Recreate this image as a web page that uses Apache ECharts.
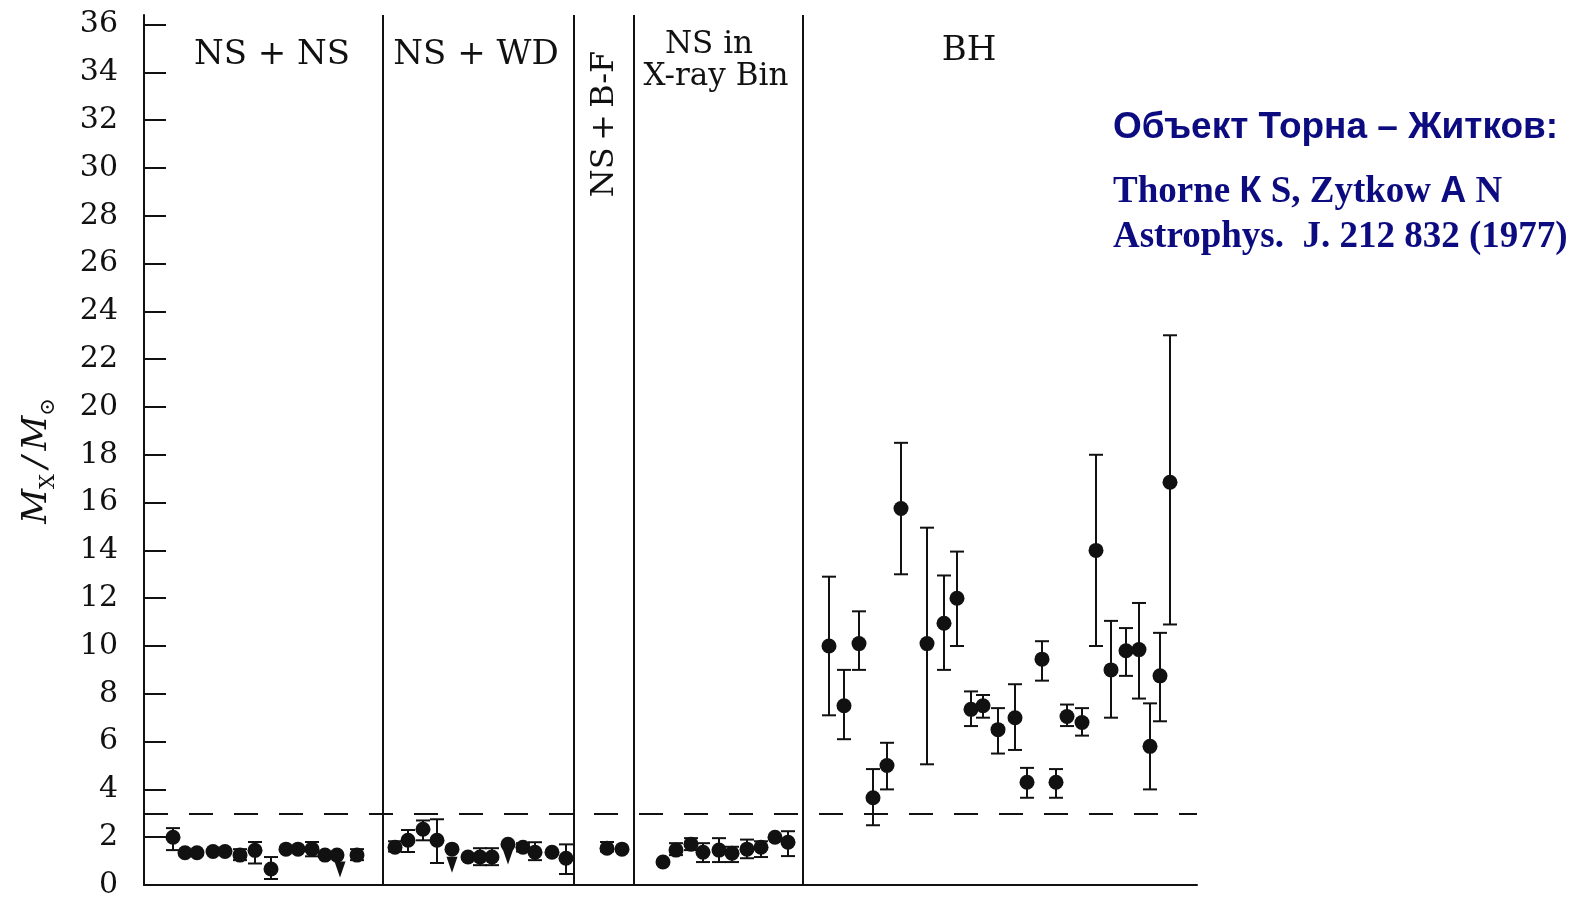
<!DOCTYPE html>
<html><head><meta charset="utf-8">
<script src="https://cdn.jsdelivr.net/npm/echarts@6/dist/echarts.min.js"></script>
<style>html,body{margin:0;padding:0;background:#fff}#c{width:1582px;height:900px}</style>
</head><body><div id="c"></div>
<script>
// ---------- DATA ----------
const yTicks = [0,2,4,6,8,10,12,14,16,18,20,22,24,26,28,30,32,34,36];
const groupSeparators = [23.9, 43.0, 49.0, 65.9];   // x positions of section borders
const limitMass = 3;                                  // dashed line M = 3 Msun

// NS + NS
const nsnsX    = [2.9, 4.1, 5.3, 6.9, 8.1, 9.6, 11.1, 12.7, 14.2, 15.4, 16.8, 18.1, 19.3, 21.3];
const nsnsM    = [2.0, 1.35, 1.35, 1.4, 1.4, 1.25, 1.45, 0.67, 1.5, 1.5, 1.5, 1.25, 1.25, 1.25];
const nsnsLow  = [1.46, null, null, null, null, 1.04, 0.9, 0.25, null, null, 1.2, null, null, 1.04];
const nsnsHigh = [2.38, null, null, null, null, 1.5, 1.8, 1.17, null, null, 1.8, null, null, 1.5];
// NS + WD
const nswdX    = [25.1, 26.4, 27.9, 29.3, 30.8, 32.4, 33.6, 34.8, 36.4, 37.9, 39.1, 40.8, 42.2];
const nswdM    = [1.58, 1.87, 2.33, 1.87, 1.5, 1.17, 1.17, 1.17, 1.7, 1.58, 1.37, 1.37, 1.12];
const nswdLow  = [1.4, 1.38, 1.87, 0.92, null, null, 0.83, 0.83, null, 1.4, 1.04, null, 0.46];
const nswdHigh = [1.83, 2.3, 2.7, 2.75, null, null, 1.54, 1.54, null, 1.75, 1.79, null, 1.7];
// NS + B-F
const nsbfX    = [46.3, 47.8];
const nsbfM    = [1.54, 1.5];
const nsbfLow  = [1.4, null];
const nsbfHigh = [1.8, null];
// NS in X-ray binaries
const nsxbX    = [51.9, 53.2, 54.7, 55.9, 57.5, 58.8, 60.3, 61.7, 63.1, 64.4];
const nsxbM    = [0.96, 1.46, 1.71, 1.37, 1.46, 1.33, 1.5, 1.58, 2.0, 1.79];
const nsxbLow  = [null, 1.25, 1.46, 0.96, 0.96, 0.96, 1.12, 1.17, null, 1.21];
const nsxbHigh = [null, 1.75, 1.96, 1.75, 1.96, 1.6, 1.9, 1.83, null, 2.25];
// BH
const bhX    = [68.5, 70.0, 71.5, 72.9, 74.3, 75.7, 78.3, 80.0, 81.3, 82.7, 83.9, 85.4, 87.1, 88.3, 89.8, 91.2, 92.3, 93.8, 95.2, 96.7, 98.2, 99.5, 100.6, 101.6, 102.6];
const bhM    = [10.0, 7.5, 10.1, 3.65, 5.0, 15.75, 10.1, 10.95, 12.0, 7.35, 7.5, 6.5, 7.0, 4.3, 9.45, 4.3, 7.05, 6.8, 14.0, 9.0, 9.8, 9.85, 5.8, 8.75, 16.85];
const bhLow  = [7.1, 6.1, 9.0, 2.5, 4.0, 13.0, 5.05, 9.0, 10.0, 6.65, 7.0, 5.5, 5.65, 3.65, 8.55, 3.65, 6.65, 6.25, 10.0, 7.0, 8.75, 7.8, 4.0, 6.85, 10.9];
const bhHigh = [12.9, 9.0, 11.45, 4.85, 5.95, 18.5, 14.95, 12.95, 13.95, 8.1, 7.95, 7.4, 8.4, 4.9, 10.2, 4.85, 7.55, 7.4, 18.0, 11.05, 10.75, 11.8, 7.6, 10.55, 23.0];
// upper-limit arrows
const arrowX = [19.6, 30.8, 36.4];
const arrowM = [0.65, 0.85, 1.19];

const groupLabels = ['NS + NS', 'NS + WD', 'NS\u2009+\u2009B-F', 'NS in', 'X-ray Bin', 'BH'];

// ---------- BUILD ----------
const allX = [].concat(nsnsX, nswdX, nsbfX, nsxbX, bhX);
const allM = [].concat(nsnsM, nswdM, nsbfM, nsxbM, bhM);
const allLow = [].concat(nsnsLow, nswdLow, nsbfLow, nsxbLow, bhLow);
const allHigh = [].concat(nsnsHigh, nswdHigh, nsbfHigh, nsxbHigh, bhHigh);
const points = allX.map((x, i) => [x, allM[i]]);
const errors = [];
allX.forEach((x, i) => { if (allLow[i] != null) errors.push([x, allLow[i], allHigh[i]]); });

const INK = '#111111';
const BLUE = '#0c0c80';
const SERIF = '"DejaVu Serif", "Liberation Serif", serif';

const chart = echarts.init(document.getElementById('c'));
chart.setOption({
  animation: false,
  backgroundColor: '#fff',
  grid: { left: 144, right: 385, top: 15, bottom: 11.5 },
  xAxis: {
    type: 'value', min: 0, max: 105.3,
    axisLine: { show: true, onZero: false, lineStyle: { color: INK, width: 2 } },
    axisTick: { show: false }, axisLabel: { show: false }, splitLine: { show: false }
  },
  yAxis: {
    type: 'value', min: 0, max: 36.4,
    axisLine: { show: true, lineStyle: { color: INK, width: 2 } },
    axisTick: { show: true, inside: true, length: 22, lineStyle: { color: INK, width: 2 }, customValues: yTicks },
    axisLabel: { color: INK, fontFamily: SERIF, fontSize: 30, margin: 26, customValues: yTicks },
    splitLine: { show: false }
  },
  series: [
    {
      type: 'custom',
      data: errors,
      silent: true,
      renderItem: function (params, api) {
        const x = api.value(0);
        const lo = api.coord([x, api.value(1)]);
        const hi = api.coord([x, api.value(2)]);
        const w = 7;
        const st = { stroke: INK, lineWidth: 2 };
        return {
          type: 'group',
          children: [
            { type: 'line', shape: { x1: lo[0], y1: lo[1], x2: hi[0], y2: hi[1] }, style: st },
            { type: 'line', shape: { x1: hi[0] - w, y1: hi[1], x2: hi[0] + w, y2: hi[1] }, style: st },
            { type: 'line', shape: { x1: lo[0] - w, y1: lo[1], x2: lo[0] + w, y2: lo[1] }, style: st }
          ]
        };
      },
      markLine: {
        silent: true, symbol: ['none', 'none'], label: { show: false },
        data: groupSeparators.map(v => ({ xAxis: v, lineStyle: { type: 'solid', color: INK, width: 2 } }))
          .concat([{ yAxis: limitMass, lineStyle: { type: [24, 21], color: INK, width: 2 } }])
      }
    },
    {
      type: 'scatter',
      data: points,
      symbol: 'circle',
      symbolSize: 15,
      itemStyle: { color: INK, opacity: 1 },
      silent: true
    },
    {
      type: 'scatter',
      data: arrowX.map((x, i) => [x, arrowM[i]]),
      symbol: 'triangle',
      symbolRotate: 180,
      symbolSize: [11, 16],
      itemStyle: { color: INK, opacity: 1 },
      silent: true
    }
  ],
  graphic: [
    { type: 'text', x: 272, y: 55, style: { text: groupLabels[0], font: '34px ' + SERIF, fill: INK, align: 'center', verticalAlign: 'middle' } },
    { type: 'text', x: 476, y: 55, style: { text: groupLabels[1], font: '34px ' + SERIF, fill: INK, align: 'center', verticalAlign: 'middle' } },
    { type: 'text', x: 605, y: 124, rotation: Math.PI / 2, style: { text: groupLabels[2], font: '32px ' + SERIF, fill: INK, align: 'center', verticalAlign: 'middle' } },
    { type: 'text', x: 709, y: 45, style: { text: groupLabels[3], font: '31px ' + SERIF, fill: INK, align: 'center', verticalAlign: 'middle' } },
    { type: 'text', x: 716, y: 77, style: { text: groupLabels[4], font: '31px ' + SERIF, fill: INK, align: 'center', verticalAlign: 'middle' } },
    { type: 'text', x: 969, y: 51, style: { text: groupLabels[5], font: '34px ' + SERIF, fill: INK, align: 'center', verticalAlign: 'middle' } },
    {
      type: 'text', x: 37, y: 461, rotation: Math.PI / 2,
      style: {
        text: '{m|M}{sub|X}{sl|/}{m|M}{sub|⊙}',
        align: 'center', verticalAlign: 'middle', fill: INK,
        rich: {
          m: { font: 'italic 34px ' + SERIF, fill: INK, lineHeight: 44 },
          sub: { font: '21px ' + SERIF, fill: INK, verticalAlign: 'bottom', lineHeight: 44 },
          sl: { font: 'italic 34px ' + SERIF, fill: INK, padding: [0, 6, 0, 6], lineHeight: 44 }
        }
      }
    },
    { type: 'text', x: 1113, y: 128, style: { text: 'Объект Торна – Житков:', font: 'bold 37px "Liberation Sans", Arial, sans-serif', fill: BLUE, align: 'left', verticalAlign: 'middle' } },
    {
      type: 'text', x: 1113, y: 192,
      style: {
        text: '{s|Thorne }{a|К}{s| S, Zytkow }{a|А}{s| N}',
        align: 'left', verticalAlign: 'middle',
        rich: {
          s: { font: 'bold 37px "Liberation Serif", serif', fill: BLUE },
          a: { font: 'bold 36px "Liberation Sans", sans-serif', fill: BLUE }
        }
      }
    },
    { type: 'text', x: 1113, y: 237, style: { text: 'Astrophys.  J. 212 832 (1977)', font: 'bold 37px "Liberation Serif", serif', fill: BLUE, align: 'left', verticalAlign: 'middle' } }
  ]
});
</script>
</body></html>
